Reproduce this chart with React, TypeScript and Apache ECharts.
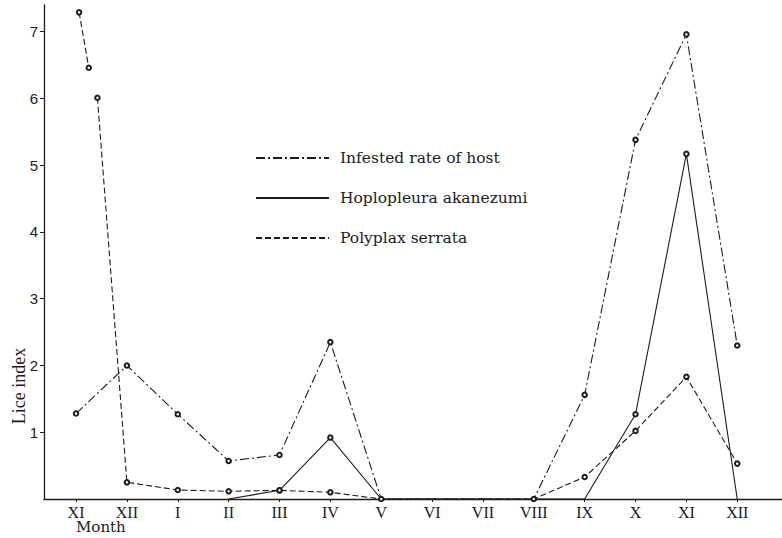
import React, { useEffect, useRef } from "react";
import * as echarts from "echarts";

const months = ["XI", "XII", "I", "II", "III", "IV", "V", "VI", "VII", "VIII", "IX", "X", "XI", "XII"];
const infested = [1.28, 2.0, 1.27, 0.57, 0.66, 2.35, 0, 0, 0, 0, 1.56, 5.38, 6.96, 2.3];
const hoplopleura = [null, null, null, 0, 0.13, 0.92, 0, 0, 0, 0, 0, 1.27, 5.17, 0];
const polyplax = [null, 0.25, 0.135, 0.115, 0.13, 0.1, 0, 0, 0, 0, 0.33, 1.02, 1.83, 0.53];
// off-scale points drawn near the first month (broken segment)
const polyplaxLeadX = [0.06, 0.25, 0.42];
const polyplaxLeadY = [7.29, 6.46, 6.01];
const yTicks = [1, 2, 3, 4, 5, 6, 7];

const INK = "#1c1c1c";

function toData(vals: (number | null)[], markerIdx: (i: number, v: number) => boolean) {
  const out: any[] = [];
  vals.forEach((v, i) => {
    if (v === null) return;
    out.push({ value: [i, v], symbol: markerIdx(i, v) ? "emptyCircle" : "none" });
  });
  return out;
}

export default function App() {
  const ref = useRef<HTMLDivElement>(null);
  useEffect(() => {
    if (!ref.current) return;
    const chart = echarts.init(ref.current, null, { renderer: "svg" });
    const base = {
      type: "line",
      symbolSize: 4.5,
      itemStyle: { color: INK, borderColor: INK, borderWidth: 0.8 },
      emphasis: { disabled: true },
      z: 3,
    };
    const infData = toData(infested, (i, v) => v > 0 || i === 6 || i === 9);
    const hopData = toData(hoplopleura, (i, v) => v > 0);
    const polyMain: any[] = [
      { value: [polyplaxLeadX[2], polyplaxLeadY[2]], symbol: "emptyCircle" },
      ...toData(polyplax, (i, v) => v > 0),
    ];
    const polyHead: any[] = [0, 1].map((k) => ({
      value: [polyplaxLeadX[k], polyplaxLeadY[k]],
      symbol: "emptyCircle",
    }));
    chart.setOption({
      animation: false,
      backgroundColor: "#fff",
      grid: { left: 44, right: 0, top: 5, bottom: 39 },
      xAxis: {
        type: "value",
        min: -0.63,
        max: 13.88,
        axisLine: { show: true, onZero: false, lineStyle: { color: INK, width: 1.3 } },
        axisTick: { show: true, length: 3, customValues: months.map((_, i) => i), lineStyle: { color: INK } },
        splitLine: { show: false },
        axisLabel: {
          customValues: months.map((_, i) => i),
          formatter: (v: number) => months[Math.round(v)],
          fontFamily: "Liberation Serif",
          fontSize: 16,
          color: INK,
          margin: 5,
        },
      },
      yAxis: {
        type: "value",
        min: 0,
        max: 7.4,
        interval: 1,
        axisLine: { show: true, onZero: false, lineStyle: { color: INK, width: 1.3 } },
        axisTick: { show: true, length: 4, customValues: yTicks, lineStyle: { color: INK } },
        splitLine: { show: false },
        axisLabel: {
          customValues: yTicks,
          formatter: (v: number) => String(v),
          fontFamily: "Liberation Sans",
          fontSize: 15,
          color: INK,
          margin: 6,
        },
      },
      legend: {
        orient: "vertical",
        left: 255,
        top: 148,
        padding: 0,
        itemWidth: 73,
        itemHeight: 20,
        itemGap: 20,
        itemStyle: { opacity: 0 },
        selectedMode: false,
        data: ["Infested rate of host", "Hoplopleura akanezumi", "Polyplax serrata"],
        textStyle: {
          fontFamily: "DejaVu Serif",
          fontSize: 15.5,
          color: INK,
          lineHeight: 20,
          padding: [0, 0, 0, 6],
        },
      },
      series: [
        {
          ...base,
          name: "Infested rate of host",
          data: infData,
          lineStyle: { color: INK, width: 1.1, type: [9, 3, 2, 3] },
        },
        {
          ...base,
          name: "Hoplopleura akanezumi",
          data: hopData,
          lineStyle: { color: INK, width: 1.1, type: "solid" },
        },
        {
          ...base,
          name: "Polyplax serrata",
          data: polyMain,
          lineStyle: { color: INK, width: 1.1, type: [6, 3] },
        },
        {
          ...base,
          name: "Polyplax serrata",
          data: polyHead,
          lineStyle: { color: INK, width: 1.1, type: [6, 3] },
        },
      ],
      graphic: [
        {
          type: "text",
          left: 76,
          top: 519,
          style: { text: "Month", font: "15px 'DejaVu Serif'", fill: INK },
        },
        {
          type: "text",
          x: 19,
          y: 386,
          rotation: Math.PI / 2,
          style: {
            text: "Lice index",
            font: "18px 'Liberation Serif'",
            fill: INK,
            align: "center",
            verticalAlign: "middle",
          },
        },
      ],
    });
    return () => chart.dispose();
  }, []);
  return (
    <div
      ref={ref}
      style={{ position: "absolute", left: 0, top: 0, width: 782, height: 538, background: "#fff" }}
    />
  );
}
